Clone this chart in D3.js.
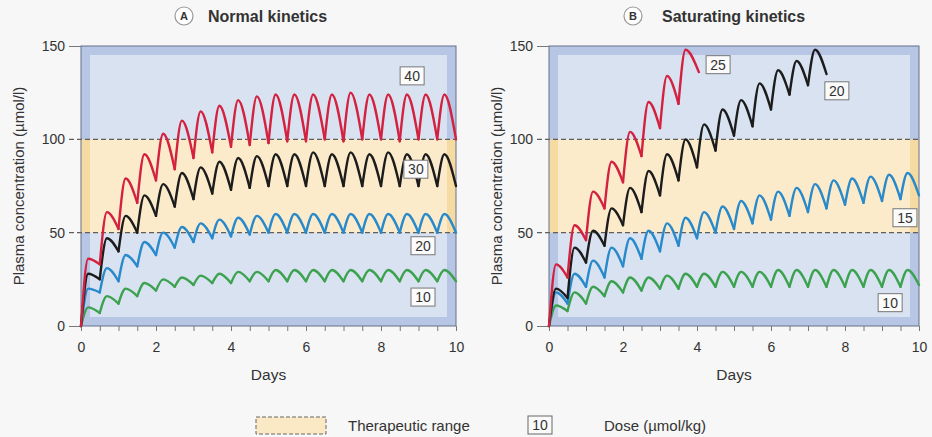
<!DOCTYPE html>
<html>
<head>
<meta charset="utf-8">
<script src="https://cdn.jsdelivr.net/npm/d3@7"></script>
<style>
	body { margin: 0; background: #f7f7f7; }
	svg { display: block; font-family: "Liberation Sans", Arial, Helvetica, sans-serif; }
</style>
</head>
<body>
<script>
// dose times (days) and axis ticks
const doseDays = [0, 0.5, 1, 1.5, 2, 2.5, 3, 3.5, 4, 4.5, 5, 5.5, 6, 6.5, 7, 7.5, 8, 8.5, 9, 9.5];
const xTicks = [0, 2, 4, 6, 8, 10];
const xMinorTicks = [0, 0.5, 1, 1.5, 2, 2.5, 3, 3.5, 4, 4.5, 5, 5.5, 6, 6.5, 7, 7.5, 8, 8.5, 9, 9.5, 10];
const yTicks = [0, 50, 100, 150];
const therapeuticRange = [50, 100];

// A: normal kinetics, doses in umol/kg
const normalDoses = [40, 30, 20, 10];
const normalPeaks40 = [36, 61, 79, 92, 103, 110, 115, 118, 121, 123, 124, 124, 124, 124, 125, 124, 124, 124, 124, 124];
const normalTroughs40 = [0, 33, 52, 66, 78, 84, 90, 93, 96, 97, 98, 99, 99, 100, 99, 100, 100, 99, 100, 100, 100];
const normalPeaks30 = [28, 47, 59, 70, 76, 82, 85, 88, 90, 91, 92, 92, 93, 92, 93, 92, 93, 92, 92, 92];
const normalTroughs30 = [0, 25, 40, 50, 59, 64, 68, 71, 73, 74, 75, 75, 75, 75, 75, 75, 75, 75, 75, 75, 75];
const normalPeaks20 = [20, 31, 38, 45, 50, 53, 55, 57, 58, 59, 60, 60, 60, 60, 60, 60, 60, 60, 60, 60];
const normalTroughs20 = [0, 18, 24, 32, 38, 42, 45, 47, 48, 49, 50, 50, 50, 50, 50, 50, 50, 50, 50, 50, 50];
const normalPeaks10 = [10, 16, 20, 23, 25, 26, 27, 28, 29, 29, 30, 30, 30, 30, 30, 30, 30, 30, 30, 30];
const normalTroughs10 = [0, 7, 12, 16, 19, 21, 22, 23, 23, 24, 24, 24, 24, 24, 24, 24, 24, 24, 24, 24, 24];
const normalEnd = [10, 10, 10, 10];

// B: saturating kinetics
const saturatingDoses = [25, 20, 15, 10];
const saturatingPeaks25 = [33, 54, 72, 88, 104, 120, 134, 148];
const saturatingTroughs25 = [0, 26, 46, 63, 77, 91, 106, 119, 136];
const saturatingPeaks20 = [20, 42, 51, 63, 74, 83, 92, 100, 108, 116, 121, 130, 137, 142, 148];
const saturatingTroughs20 = [0, 15, 34, 43, 54, 61, 70, 78, 85, 94, 102, 107, 116, 124, 129, 135];
const saturatingPeaks15 = [18, 28, 35, 42, 47, 51, 55, 58, 61, 64, 67, 70, 72, 74, 76, 78, 79, 80, 81, 82];
const saturatingTroughs15 = [0, 12, 21, 26, 32, 36, 40, 43, 47, 50, 52, 55, 57, 59, 61, 63, 65, 66, 67, 68, 70];
const saturatingPeaks10 = [11, 18, 21, 24, 26, 26, 27, 28, 28, 29, 29, 29, 30, 30, 30, 30, 30, 30, 30, 30];
const saturatingTroughs10 = [0, 8, 12, 16, 18, 19, 20, 20, 21, 21, 21, 21, 21, 21, 21, 21, 21, 21, 21, 21, 22];
const saturatingEnd = [4.05, 7.5, 10, 10];

// where the dose boxes sit, in data units [day, value]
const normalLabelPos = [[8.83, 134], [8.93, 84], [9.12, 43], [9.12, 15.5]];
const saturatingLabelPos = [[4.57, 140], [7.78, 126], [9.62, 58], [9.22, 12.5]];

const seriesColors = ['#d3213f', '#1c1c1c', '#2889cb', '#3ca24f'];
const peakLag = 0.19;
const svgSize = {width: 932, height: 437};
const plotTop = 46, plotBottom = 326, inset = 9;

var svg = d3.select('body').append('svg')
	.attr('width', svgSize.width)
	.attr('height', svgSize.height);

function drawPanel(p) {
	var x = d3.scaleLinear().domain([0, 10]).range([p.left, p.right]);
	var y = d3.scaleLinear().domain([0, 150]).range([plotBottom, plotTop]);
	var g = svg.append('g');
	var w = x(10) - x(0);

	// blue frame with lighter inner area
	g.append('rect').attr('x', x(0)).attr('y', y(150)).attr('width', w).attr('height', y(0) - y(150)).attr('fill', '#b6c6e4');
	g.append('rect').attr('x', x(0) + inset).attr('y', y(150) + inset).attr('width', w - 2 * inset).attr('height', y(0) - y(150) - 2 * inset).attr('fill', '#d9e2f1');

	// therapeutic band
	g.append('rect').attr('x', x(0)).attr('y', y(therapeuticRange[1])).attr('width', w)
		.attr('height', y(therapeuticRange[0]) - y(therapeuticRange[1])).attr('fill', '#f5dba2');
	g.append('rect').attr('x', x(0) + inset).attr('y', y(therapeuticRange[1])).attr('width', w - 2 * inset)
		.attr('height', y(therapeuticRange[0]) - y(therapeuticRange[1])).attr('fill', '#fbebcb');

	g.append('rect').attr('x', x(0)).attr('y', y(150)).attr('width', w).attr('height', y(0) - y(150))
		.attr('fill', 'none').attr('stroke', '#65708a').attr('stroke-width', 1);

	therapeuticRange.forEach(v => {
		g.append('line')
			.attr('x1', x(0) - 12).attr('x2', x(10))
			.attr('y1', y(v)).attr('y2', y(v))
			.attr('stroke', '#5e5e5e').attr('stroke-width', 1.2)
			.attr('stroke-dasharray', '5,3');
	});

	// axes
	var xAxis = g.append('g')
		.attr('transform', `translate(0, ${plotBottom})`)
		.call(d3.axisBottom(x).tickValues(xMinorTicks).tickSize(5).tickFormat(''));
	xAxis.select('.domain').remove();
	xAxis.selectAll('line').attr('stroke', '#777');

	var xLabels = g.append('g')
		.attr('transform', `translate(0, ${plotBottom})`)
		.call(d3.axisBottom(x).tickValues(xTicks).tickSize(0).tickPadding(16).tickFormat(d3.format('d')));
	xLabels.select('.domain').remove();
	xLabels.selectAll('text').attr('font-size', 14).attr('fill', '#333');

	var yAxis = g.append('g')
		.attr('transform', `translate(${x(0)}, 0)`)
		.call(d3.axisLeft(y).tickValues(yTicks).tickSize(12).tickPadding(4));
	yAxis.select('.domain').remove();
	yAxis.selectAll('.tick line').attr('stroke', '#777')
		.filter(d => therapeuticRange.indexOf(d) >= 0).remove();
	yAxis.selectAll('text').attr('font-size', 14).attr('fill', '#333');

	// concentration curves, one arch per dosing interval
	var line = d3.line().x(d => x(d[0])).y(d => y(d[1])).curve(d3.curveMonotoneX);
	p.series.slice().reverse().forEach(s => {
		var sg = g.append('g')
			.attr('fill', 'none')
			.attr('stroke', s.color)
			.attr('stroke-width', 2.4)
			.attr('stroke-linecap', 'round')
			.attr('stroke-linejoin', 'round');
		s.peaks.forEach((pk, i) => {
			var t0 = doseDays[i];
			var t1 = i + 1 < s.peaks.length ? doseDays[i + 1] : s.end;
			var pts = [[t0, s.troughs[i]], [t0 + peakLag, pk], [t1, s.troughs[i + 1]]];
			sg.append('path').attr('d', line(pts));
		});
	});

	// dose boxes
	p.series.forEach(s => {
		var lg = g.append('g').attr('transform', `translate(${x(s.label[0])}, ${y(s.label[1])})`);
		lg.append('rect').attr('x', -12).attr('y', -9).attr('width', 24).attr('height', 18)
			.attr('fill', '#fbfbfb').attr('stroke', '#777').attr('stroke-width', 1);
		lg.append('text').attr('text-anchor', 'middle').attr('dy', '0.36em')
			.attr('font-size', 14).attr('fill', '#333').text(s.dose);
	});

	// titles
	svg.append('circle').attr('cx', p.letterX).attr('cy', 16).attr('r', 9)
		.attr('fill', '#fff').attr('stroke', '#999').attr('stroke-width', 1.2);
	svg.append('text').attr('x', p.letterX).attr('y', 16).attr('dy', '0.36em')
		.attr('text-anchor', 'middle').attr('font-size', 11).attr('font-weight', 'bold')
		.attr('fill', '#333').text(p.letter);
	svg.append('text').attr('x', p.titleX).attr('y', 22)
		.attr('font-size', 16).attr('font-weight', 'bold').attr('fill', '#333').text(p.title);

	svg.append('text')
		.attr('x', (x(0) + x(10)) / 2).attr('y', 380)
		.attr('text-anchor', 'middle').attr('font-size', 15.5).attr('fill', '#333')
		.text('Days');

	svg.append('text')
		.attr('transform', `translate(${p.yLabelX}, ${(plotTop + plotBottom) / 2}) rotate(-90)`)
		.attr('text-anchor', 'middle').attr('font-size', 15).attr('fill', '#333')
		.text('Plasma concentration (\u00b5mol/l)');
}

function buildSeries(doses, peaks, troughs, ends, labels) {
	return doses.map((d, i) => ({
		dose: d, peaks: peaks[i], troughs: troughs[i], end: ends[i],
		label: labels[i], color: seriesColors[i]
	}));
}

drawPanel({
	left: 81, right: 456, letter: 'A', letterX: 184, titleX: 208, yLabelX: 24,
	title: 'Normal kinetics',
	series: buildSeries(normalDoses,
		[normalPeaks40, normalPeaks30, normalPeaks20, normalPeaks10],
		[normalTroughs40, normalTroughs30, normalTroughs20, normalTroughs10],
		normalEnd, normalLabelPos)
});

drawPanel({
	left: 549, right: 919, letter: 'B', letterX: 633, titleX: 662, yLabelX: 502,
	title: 'Saturating kinetics',
	series: buildSeries(saturatingDoses,
		[saturatingPeaks25, saturatingPeaks20, saturatingPeaks15, saturatingPeaks10],
		[saturatingTroughs25, saturatingTroughs20, saturatingTroughs15, saturatingTroughs10],
		saturatingEnd, saturatingLabelPos)
});

// legend
var legend = svg.append('g');
legend.append('rect').attr('x', 256).attr('y', 417).attr('width', 70).attr('height', 17)
	.attr('fill', '#fbe9c6').attr('stroke', '#666').attr('stroke-dasharray', '4,2');
legend.append('text').attr('x', 348).attr('y', 431).attr('font-size', 15).attr('fill', '#333')
	.text('Therapeutic range');
legend.append('rect').attr('x', 528).attr('y', 416).attr('width', 24).attr('height', 18)
	.attr('fill', '#fbfbfb').attr('stroke', '#666');
legend.append('text').attr('x', 540).attr('y', 425).attr('dy', '0.36em').attr('text-anchor', 'middle')
	.attr('font-size', 14).attr('fill', '#333').text('10');
legend.append('text').attr('x', 604).attr('y', 431).attr('font-size', 15).attr('fill', '#333')
	.text('Dose (\u00b5mol/kg)');
</script>
</body>
</html>
